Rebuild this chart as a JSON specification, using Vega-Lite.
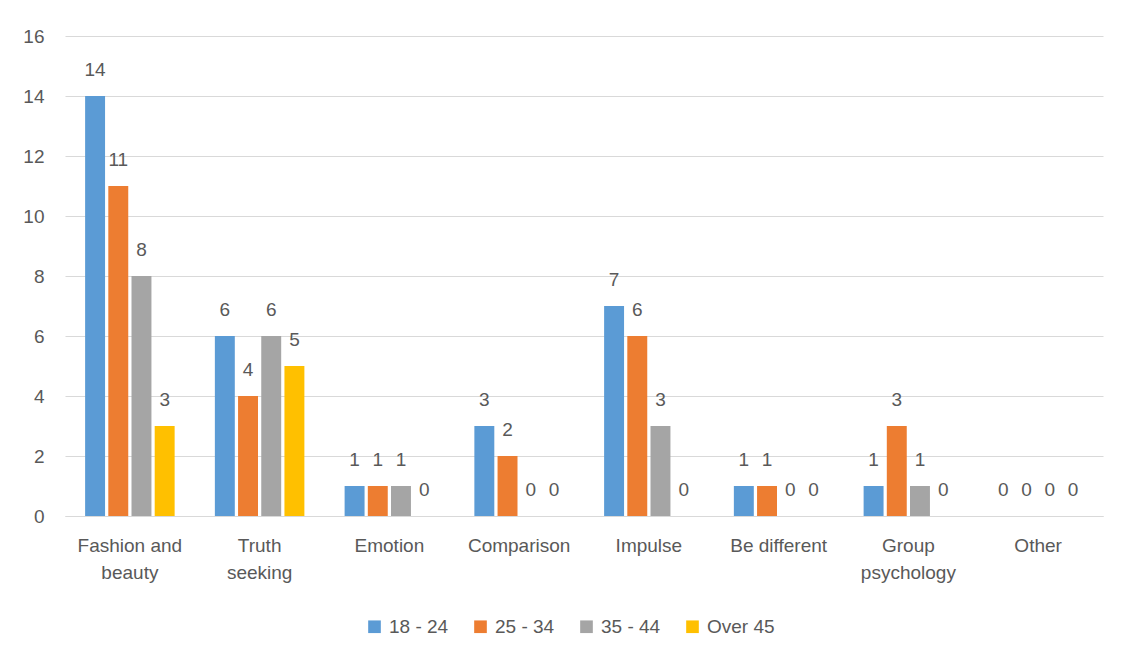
{
  "$schema": "https://vega.github.io/schema/vega-lite/v6.json",
  "width": 1038,
  "height": 480,
  "autosize": {"type": "none"},
  "padding": {"left": 65, "top": 36, "right": 21, "bottom": 142},
  "background": "white",
  "data": {"values": [
    {"category": "Fashion and beauty", "age": "18 - 24", "value": 14},
    {"category": "Fashion and beauty", "age": "25 - 34", "value": 11},
    {"category": "Fashion and beauty", "age": "35 - 44", "value": 8},
    {"category": "Fashion and beauty", "age": "Over 45", "value": 3},
    {"category": "Truth seeking", "age": "18 - 24", "value": 6},
    {"category": "Truth seeking", "age": "25 - 34", "value": 4},
    {"category": "Truth seeking", "age": "35 - 44", "value": 6},
    {"category": "Truth seeking", "age": "Over 45", "value": 5},
    {"category": "Emotion", "age": "18 - 24", "value": 1},
    {"category": "Emotion", "age": "25 - 34", "value": 1},
    {"category": "Emotion", "age": "35 - 44", "value": 1},
    {"category": "Emotion", "age": "Over 45", "value": 0},
    {"category": "Comparison", "age": "18 - 24", "value": 3},
    {"category": "Comparison", "age": "25 - 34", "value": 2},
    {"category": "Comparison", "age": "35 - 44", "value": 0},
    {"category": "Comparison", "age": "Over 45", "value": 0},
    {"category": "Impulse", "age": "18 - 24", "value": 7},
    {"category": "Impulse", "age": "25 - 34", "value": 6},
    {"category": "Impulse", "age": "35 - 44", "value": 3},
    {"category": "Impulse", "age": "Over 45", "value": 0},
    {"category": "Be different", "age": "18 - 24", "value": 1},
    {"category": "Be different", "age": "25 - 34", "value": 1},
    {"category": "Be different", "age": "35 - 44", "value": 0},
    {"category": "Be different", "age": "Over 45", "value": 0},
    {"category": "Group psychology", "age": "18 - 24", "value": 1},
    {"category": "Group psychology", "age": "25 - 34", "value": 3},
    {"category": "Group psychology", "age": "35 - 44", "value": 1},
    {"category": "Group psychology", "age": "Over 45", "value": 0},
    {"category": "Other", "age": "18 - 24", "value": 0},
    {"category": "Other", "age": "25 - 34", "value": 0},
    {"category": "Other", "age": "35 - 44", "value": 0},
    {"category": "Other", "age": "Over 45", "value": 0}
  ]},
  "encoding": {
    "x": {
      "field": "category", "type": "nominal", "sort": null, "title": null,
      "scale": {"paddingInner": 0.31, "paddingOuter": 0.155},
      "axis": {
        "labelAngle": 0, "ticks": false, "domain": true, "domainColor": "#D9D9D9", "domainWidth": 1,
        "labelPadding": 20, "labelLineHeight": 27, "labelBaseline": "top",
        "labelExpr": "datum.label == 'Fashion and beauty' ? ['Fashion and', 'beauty'] : datum.label == 'Truth seeking' ? ['Truth', 'seeking'] : datum.label == 'Group psychology' ? ['Group', 'psychology'] : datum.label"
      }
    },
    "xOffset": {"field": "age", "type": "nominal", "scale": {"paddingInner": 0.14}},
    "y": {
      "field": "value", "type": "quantitative", "title": null,
      "scale": {"domain": [0, 16], "nice": false},
      "axis": {"values": [0, 2, 4, 6, 8, 10, 12, 14, 16], "domain": false, "ticks": false, "labelPadding": 21, "gridColor": "#D9D9D9", "gridWidth": 1}
    }
  },
  "layer": [
    {
      "mark": {"type": "bar"},
      "encoding": {
        "color": {
          "field": "age", "type": "nominal", "title": null,
          "scale": {"domain": ["18 - 24", "25 - 34", "35 - 44", "Over 45"], "range": ["#5B9BD5", "#ED7D31", "#A5A5A5", "#FFC000"]},
          "legend": {
            "orient": "none", "direction": "horizontal", "legendX": 300, "legendY": 581,
            "symbolType": "square", "symbolSize": 160, "symbolStrokeWidth": 0,
            "labelFontSize": 19, "labelColor": "#595959", "labelOffset": 5, "columnPadding": 22, "labelFont": "Liberation Sans"
          }
        }
      }
    },
    {
      "mark": {"type": "text", "baseline": "middle", "dy": -26, "fontSize": 19, "color": "#595959", "font": "Liberation Sans"},
      "encoding": {"text": {"field": "value", "type": "quantitative"}}
    }
  ],
  "config": {
    "view": {"stroke": null},
    "axis": {"labelFont": "Liberation Sans", "labelFontSize": 19, "labelColor": "#595959"}
  }
}
